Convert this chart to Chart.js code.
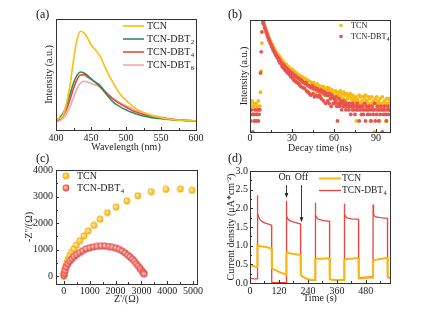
<!DOCTYPE html>
<html>
<head>
<meta charset="utf-8">
<script src="https://cdn.jsdelivr.net/npm/chart.js@4.4.1/dist/chart.umd.min.js"></script>
<style>
  body { margin: 0; background: #fff; }
  #wrap { position: relative; width: 421px; height: 313px; overflow: hidden; }
  canvas { position: absolute; }
  .tag { position: absolute; font: 12px "Liberation Serif", serif; line-height: 12px; color: #111; }
</style>
</head>
<body>
<div id="wrap">
  <canvas id="plChart" width="212" height="156" style="left:0;top:0"></canvas>
  <canvas id="decayChart" width="200" height="156" style="left:206px;top:0"></canvas>
  <canvas id="eisChart" width="212" height="163" style="left:0;top:150px"></canvas>
  <canvas id="pcChart" width="200" height="163" style="left:206px;top:150px"></canvas>
  <div class="tag" style="left:36px;top:8px">(a)</div>
  <div class="tag" style="left:228px;top:8px">(b)</div>
  <div class="tag" style="left:36px;top:152px">(c)</div>
  <div class="tag" style="left:228px;top:152px">(d)</div>
</div>
<script>
// (a) PL spectra
const wavelength = [400,405,410,415,420,425,430,435,440,445,450,455,460,465,470,475,480,485,490,495,500,505,510,515,520,525,530,535,540,545,550,555,560,565,570,575,580,585,590,595,600];
const plTcn  = [30,35,45,80,135,210,272,298,293,278,258,245,232,215,190,168,148,130,113,100,90,80,71,63,58,53,49,45,42,40,37,35,34,32,31,30,29.5,29,28.5,28,27];
const plDbt2 = [30,36,50,75,108,142,165,175,172,165,155,146,137,127,113,100,88,79,72,66,61,56,52,48,45,42,40,38,36,35,34,33,32,31,30,29.5,29,28.5,28,27.5,27];
const plDbt4 = [28,33,43,62,92,125,152,166,167,160,153,146,140,130,117,106,96,88,81,75,69,63,58,54,50,47,44,42,40,38,36,35,34,32,31,30,29.5,29,28.5,28,27];
const plDbt6 = [25,28,35,48,70,98,125,142,147,145,140,137,133,124,115,106,98,91,84,78,73,68,63,58,55,51,48,45,43,41,39,37,35,33.5,32,31,30,29,28.5,28,27.5];
const plXTicks = [400,450,500,550,600];

// (b) decay curves (counts, log axis)
const decayTime = [0,0.5,1,1.5,2,2.5,3,3.5,4,4.5,5,5.5,6,6.5,7,7.5,8,8.5,9,9.5,
  10,10.5,11,11.5,12,12.5,13,13.5,14,14.5,15,15.5,16,16.5,17,17.5,18,18.5,19,19.5,
  20,20.5,21,21.5,22,22.5,23,23.5,24,24.5,25,25.5,26,26.5,27,27.5,28,28.5,29,29.5,
  30,30.5,31,31.5,32,32.5,33,33.5,34,34.5,35,35.5,36,36.5,37,37.5,38,38.5,39,39.5,
  40,40.5,41,41.5,42,42.5,43,43.5,44,44.5,45,45.5,46,46.5,47,47.5,48,48.5,49,49.5,
  50,50.5,51,51.5,52,52.5,53,53.5,54,54.5,55,55.5,56,56.5,57,57.5,58,58.5,59,59.5,
  60,60.5,61,61.5,62,62.5,63,63.5,64,64.5,65,65.5,66,66.5,67,67.5,68,68.5,69,69.5,
  70,70.5,71,71.5,72,72.5,73,73.5,74,74.5,75,75.5,76,76.5,77,77.5,78,78.5,79,79.5,
  80,80.5,81,81.5,82,82.5,83,83.5,84,84.5,85,85.5,86,86.5,87,87.5,88,88.5,89,89.5,
  90,90.5,91,91.5,92,92.5,93,93.5,94,94.5,95,95.5,96,96.5,97,97.5,98,98.5,99,99.5,100];
const decayTcn = [6,4,5,7,3,5,6,2,4,6,5,3,7,4,5,12,45,260,900,1000,
  860,735,672,575,530,452,418,362,338,292,278,240,231,201,194,170,165,144,141,126,
  128,106,114,92,100,81,90,71,80,64,72,57,67,52,60,47,57,44,52,41,
  50,38,46,35,43,31,40,29,37,27,35,25,33,24,32,23,30,22,28,20,
  27,19,25,18,24,17,23,16,22,21,15,22,14,20,19,13,20,15,13,18,
  17,12,16,14,11,17,12,10,15,11,14,16,10,12,15,9,13,14,10,9,
  12,8,13,10,7,12,9,11,6,13,9,7,11,8,12,6,10,7,11,8,
  10,6,9,11,5,8,7,10,8,5,7,9,2,8,7,5,10,6,9,6,
  7,9,5,6,8,10,5,7,4,9,6,8,2,6,9,5,7,6,1,8,
  6,9,5,7,6,2,8,5,6,9,6,4,7,6,2,8,6,5,8,6,7];
const decayDbt4 = [3,2,4,3,1,3,2,4,3,2,3,4,2,3,4,40,150,520,1080,940,
  815,690,610,520,470,400,365,315,295,255,240,210,198,172,163,145,138,121,117,103,
  104,85,93,74,79,70,60,70,54,63,48,57,44,52,40,48,37,45,32,40,
  40,29,37,25,34,24,32,22,30,21,28,19,27,17,25,23,16,22,15,21,
  22,13,19,12,18,11,17,10,16,18,11,15,9,16,10,14,15,9,13,10,
  9,14,8,12,13,7,11,12,6,10,11,7,10,6,11,8,5,10,9,6,
  8,6,7,9,5,2,6,8,5,6,7,4,6,5,7,5,6,4,6,5,
  5,4,6,5,3,5,4,6,4,5,3,5,4,6,4,5,2,4,5,3,
  4,5,3,4,6,2,4,5,3,4,5,3,4,2,5,4,3,4,6,2,
  4,3,5,4,2,4,3,5,4,1,4,3,5,4,3,2,4,5,3,4,4];
const decayXTicks = [0,30,60,90];

// (c) Nyquist plots (ohm)
const eisTcnRe = [5,15,30,52,78,117,168,233,311,389,492,622,777,945,1166,1400,1684,2020,2435,2862,3380,3950,4508,4960];
const eisTcnIm = [20,75,164,264,377,503,640,780,906,1020,1170,1333,1510,1700,1910,2140,2390,2600,2830,3030,3180,3265,3283,3230];
const eisDbtRe = [5,25,55,100,160,230,310,400,500,610,730,860,1000,1140,1290,1440,1590,1740,1880,2010,2140,2260,2370,2470,2560,2650,2730,2810,2880,2945,3000,3050,3085,3105];
const eisDbtIm = [15,100,210,340,455,560,650,735,810,885,955,1025,1065,1095,1115,1130,1130,1112,1085,1050,1005,945,870,790,720,640,555,460,370,285,215,150,105,75];
const eisXTicks = [0,1000,2000,3000,4000,5000];
const eisYTicks = [0,1000,2000,3000,4000];

// (d) photocurrent response
const pcTimeTcn = [0,10,20,29.5,30.5,40,50,60,70,80,89.5,90.5,100,110,120,130,140,149.5,150.5,155,160,170,180,190,200,209.5,210.5,220,230,240,255,269.5,270.5,280,300,320,329.5,330.5,340,360,389.5,390.5,400,420,440,449.5,450.5,470,490,509.5,510.5,520,540,560,569.5,570.5,575,580];
const pcTcn = [0.48,0.46,0.44,0.42,1.01,0.99,0.98,0.97,0.96,0.94,0.93,0.4,0.36,0.33,0.3,0.27,0.25,0.22,0.8,0.83,0.8,0.79,0.78,0.77,0.76,0.74,0.22,0.16,0.13,0.11,0.09,0.08,0.64,0.65,0.65,0.66,0.66,0.1,0.09,0.08,0.08,0.62,0.64,0.65,0.66,0.66,0.12,0.13,0.14,0.14,0.6,0.62,0.64,0.66,0.67,0.18,0.15,0.14];
const pcTimeDbt = [0,10,20,29.5,30,31,33,36,40,50,60,70,80,89.5,90,100,149.5,150,151,153,156,160,170,180,190,200,209.5,210,215,225,240,255,269.5,270,271,273,276,280,300,320,329.5,330,340,360,389.5,390,391,393,396,400,420,440,449.5,450,470,490,509.5,510,511,513,516,520,540,560,569.5,570,580];
const pcDbt4 = [0.13,0.12,0.11,0.11,2.35,2.02,1.86,1.77,1.71,1.65,1.61,1.59,1.57,1.55,0.02,0.01,0.01,2.2,1.92,1.8,1.73,1.69,1.66,1.64,1.62,1.6,1.58,0.22,0.18,0.14,0.1,0.08,0.07,2.15,1.92,1.82,1.76,1.72,1.68,1.66,1.65,0.1,0.09,0.08,0.08,2.12,1.92,1.84,1.78,1.75,1.72,1.71,1.7,0.14,0.15,0.16,0.17,2.1,1.9,1.83,1.79,1.77,1.75,1.74,1.73,0.15,0.13];
const pcXTicks = [0,120,240,360,480];
const pcYTicks = [0,0.5,1,1.5,2,2.5,3];
const onOff = [{t: 150, text: 'On', tip: 2.28}, {t: 210, text: 'Off', tip: 1.63}];

const FONT = '"Liberation Serif", "Times New Roman", serif';
Chart.defaults.font.family = FONT;
Chart.defaults.font.size = 10;
Chart.defaults.color = '#222';
Chart.defaults.animation = false;
Chart.defaults.responsive = false;
Chart.defaults.plugins.legend.display = false;
Chart.defaults.plugins.tooltip.enabled = false;

const pts = (xs, ys) => xs.map((x, i) => ({x: x, y: ys[i]}));

// box round the plot area with inward tick marks
const framePlugin = {
  id: 'frame',
  afterDatasetsDraw(chart, args, o) {
    const {ctx, chartArea: a} = chart;
    ctx.save();
    ctx.strokeStyle = '#333';
    ctx.lineWidth = 1;
    const marks = (scale, horiz) => {
      const vals = scale.ticks.map(t => t.value);
      if (vals.length < 2) return;
      const step = vals[1] - vals[0];
      const list = vals.map(v => [v, 3]);
      for (let v = vals[0] - step / 2; v <= scale.max; v += step) {
        if (v >= scale.min) list.push([v, 2]);
      }
      list.forEach(([v, len]) => {
        const p = Math.round(scale.getPixelForValue(v)) + 0.5;
        ctx.beginPath();
        if (horiz) { ctx.moveTo(p, a.bottom); ctx.lineTo(p, a.bottom - len); }
        else { ctx.moveTo(a.left, p); ctx.lineTo(a.left + len, p); }
        ctx.stroke();
      });
    };
    if (o.x) marks(chart.scales.x, true);
    if (o.y) marks(chart.scales.y, false);
    ctx.strokeRect(Math.round(a.left) + 0.5, Math.round(a.top) + 0.5,
      Math.round(a.right - a.left), Math.round(a.bottom - a.top));
    ctx.restore();
  }
};

const SUB = '₀₁₂₃₄₅₆₇₈₉';
function drawLabel(ctx, text, x, y, size) {
  let base = text, sub = '';
  while (base.length && SUB.includes(base[base.length - 1])) {
    sub = SUB.indexOf(base[base.length - 1]) + sub;
    base = base.slice(0, -1);
  }
  ctx.textBaseline = 'middle';
  ctx.textAlign = 'left';
  ctx.font = size + 'px ' + FONT;
  ctx.fillText(base, x, y);
  if (sub) {
    const w = ctx.measureText(base).width;
    ctx.font = (size * 0.68) + 'px ' + FONT;
    ctx.fillText(sub, x + w + 0.3, y + size * 0.32);
  }
}

// legend drawn inside the plot
const keyPlugin = {
  id: 'key',
  afterDraw(chart, args, o) {
    if (!o.kind) return;
    const ctx = chart.ctx;
    ctx.save();
    chart.data.datasets.forEach((ds, i) => {
      const y = o.y + i * o.gap;
      if (o.kind === 'line') {
        ctx.strokeStyle = ds.borderColor;
        ctx.lineWidth = ds.borderWidth;
        ctx.beginPath(); ctx.moveTo(o.x, y); ctx.lineTo(o.x + o.len, y); ctx.stroke();
      } else if (o.kind === 'dot') {
        ctx.fillStyle = ds.backgroundColor;
        ctx.beginPath(); ctx.arc(o.x, y, o.r, 0, Math.PI * 2); ctx.fill();
      } else {
        const img = ds.pointStyle;
        ctx.drawImage(img, o.x - img.width / 2, y - img.height / 2);
      }
      ctx.fillStyle = '#222';
      drawLabel(ctx, ds.label, o.tx, y, o.size);
    });
    ctx.restore();
  }
};

// On / Off arrows in (d)
const arrowPlugin = {
  id: 'arrows',
  afterDraw(chart, args, o) {
    if (!o.items) return;
    const {ctx, scales: {x, y}} = chart;
    ctx.save();
    ctx.fillStyle = '#222';
    ctx.strokeStyle = '#222';
    ctx.lineWidth = 0.9;
    o.items.forEach(it => {
      const px = Math.round(x.getPixelForValue(it.t)) + 0.5;
      ctx.font = '10px ' + FONT;
      ctx.textAlign = 'center';
      ctx.textBaseline = 'middle';
      ctx.fillText(it.text, px - (it.text === 'On' ? 2 : 0), y.getPixelForValue(o.textAt));
      const y0 = y.getPixelForValue(o.top), y1 = y.getPixelForValue(it.tip);
      ctx.beginPath(); ctx.moveTo(px, y0); ctx.lineTo(px, y1 - 3); ctx.stroke();
      ctx.beginPath(); ctx.moveTo(px - 1.8, y1 - 5); ctx.lineTo(px + 1.8, y1 - 5); ctx.lineTo(px, y1); ctx.closePath(); ctx.fill();
    });
    ctx.restore();
  }
};

function ball(inner, outer, r) {
  const c = document.createElement('canvas');
  const s = Math.ceil(r * 2) + 1;
  c.width = c.height = s;
  const g = c.getContext('2d');
  const grad = g.createRadialGradient(s / 2 - r * 0.25, s / 2 - r * 0.25, 0.2, s / 2, s / 2, r);
  grad.addColorStop(0, inner);
  grad.addColorStop(1, outer);
  g.fillStyle = grad;
  g.beginPath(); g.arc(s / 2, s / 2, r, 0, Math.PI * 2); g.fill();
  return c;
}

const setTicks = list => s => { s.ticks = list.map(v => ({value: v})); };
const noGrid = {display: false, drawTicks: false};
const noBorder = {display: false};
const plugins = [framePlugin, keyPlugin, arrowPlugin];

// (a)
new Chart(document.getElementById('plChart'), {
  type: 'line',
  data: {
    datasets: [
      {label: 'TCN', data: pts(wavelength, plTcn), borderColor: '#F6C21A', borderWidth: 1.7},
      {label: 'TCN-DBT₂', data: pts(wavelength, plDbt2), borderColor: '#2F8E5C', borderWidth: 1.6},
      {label: 'TCN-DBT₄', data: pts(wavelength, plDbt4), borderColor: '#E8473F', borderWidth: 1.6},
      {label: 'TCN-DBT₆', data: pts(wavelength, plDbt6), borderColor: '#F2A6B4', borderWidth: 1.6}
    ]
  },
  options: {
    layout: {padding: {left: 0, right: 16, top: 19, bottom: 2}},
    elements: {point: {radius: 0}, line: {cubicInterpolationMode: 'monotone'}},
    scales: {
      x: {type: 'linear', min: 400, max: 600, grid: noGrid, border: noBorder,
        afterBuildTicks: setTicks(plXTicks), afterFit: s => { s.height = 24; },
        ticks: {padding: 2, maxRotation: 0, autoSkip: false, callback: v => String(v)},
        title: {display: true, text: 'Wavelength (nm)', padding: {top: 0, bottom: 1}}},
      y: {min: 0, max: 335, grid: noGrid, border: noBorder, ticks: {display: false},
        afterFit: s => { s.width = 56; },
        title: {display: true, text: 'Intensity (a.u.)', padding: {top: 43, bottom: 0}}}
    },
    plugins: {
      frame: {x: true},
      key: {kind: 'line', x: 123, len: 21, tx: 147, y: 26, gap: 13, size: 10}
    }
  },
  plugins: plugins
});

// (b)
new Chart(document.getElementById('decayChart'), {
  type: 'scatter',
  data: {
    datasets: [
      {label: 'TCN', data: pts(decayTime, decayTcn), backgroundColor: '#F8B911', order: 1},
      {label: 'TCN-DBT₄', data: pts(decayTime, decayDbt4), backgroundColor: '#E8524F', order: 0}
    ]
  },
  options: {
    layout: {padding: {left: 0, right: 16, top: 20, bottom: 0}},
    elements: {point: {radius: 1.9, borderWidth: 0}},
    scales: {
      x: {type: 'linear', min: 0, max: 100, grid: noGrid, border: noBorder,
        afterBuildTicks: setTicks(decayXTicks), afterFit: s => { s.height = 24; },
        ticks: {padding: 0, maxRotation: 0, autoSkip: false, callback: v => String(v)},
        title: {display: true, text: 'Decay time (ns)', padding: {top: 0, bottom: 2}}},
      y: {type: 'logarithmic', min: 1, max: 1100, grid: noGrid, border: noBorder,
        ticks: {display: false}, afterFit: s => { s.width = 44; },
        title: {display: true, text: 'Intensity (a.u.)', padding: {top: 32, bottom: 0}}}
    },
    plugins: {
      frame: {x: true},
      key: {kind: 'dot', x: 135, r: 1.8, tx: 145, y: 25.5, gap: 11, size: 8.2}
    }
  },
  plugins: plugins
});

// (c)
new Chart(document.getElementById('eisChart'), {
  type: 'scatter',
  data: {
    datasets: [
      {label: 'TCN', data: pts(eisTcnRe, eisTcnIm), pointStyle: ball('#FFF1A6', '#EFA800', 3.4), order: 1},
      {label: 'TCN-DBT₄', data: pts(eisDbtRe, eisDbtIm), pointStyle: ball('#FBD8D2', '#E23E3A', 3.4), order: 0}
    ]
  },
  options: {
    layout: {padding: {left: 0, right: 15, top: 20, bottom: 0}},
    elements: {point: {radius: 3.4}},
    scales: {
      x: {type: 'linear', min: -300, max: 5150, grid: noGrid, border: noBorder,
        afterBuildTicks: setTicks(eisXTicks), afterFit: s => { s.height = 29; },
        ticks: {padding: 1, maxRotation: 0, autoSkip: false, callback: v => String(v)},
        title: {display: true, text: "Z'/(Ω)", padding: {top: 0, bottom: 8}}},
      y: {type: 'linear', min: -300, max: 4000, grid: noGrid, border: noBorder,
        afterBuildTicks: setTicks(eisYTicks), afterFit: s => { s.width = 56; },
        ticks: {padding: 3, autoSkip: false, callback: v => String(v)},
        title: {display: true, text: "-Z''/(Ω)", padding: {top: 23, bottom: 0}}}
    },
    plugins: {
      frame: {x: true, y: true},
      key: {kind: 'ball', x: 66, tx: 77, y: 26, gap: 12, size: 10}
    }
  },
  plugins: plugins
});

// (d)
new Chart(document.getElementById('pcChart'), {
  type: 'line',
  data: {
    datasets: [
      {label: 'TCN', data: pts(pcTimeTcn, pcTcn), borderColor: '#F9B80C', borderWidth: 2},
      {label: 'TCN-DBT₄', data: pts(pcTimeDbt, pcDbt4), borderColor: '#EC4444', borderWidth: 1.3}
    ]
  },
  options: {
    layout: {padding: {left: 0, right: 16, top: 21, bottom: 0}},
    elements: {point: {radius: 0}, line: {tension: 0}},
    scales: {
      x: {type: 'linear', min: 0, max: 580, grid: noGrid, border: noBorder,
        afterBuildTicks: setTicks(pcXTicks), afterFit: s => { s.height = 30; },
        ticks: {padding: 2, maxRotation: 0, autoSkip: false, callback: v => String(v)},
        title: {display: true, text: 'Time (s)', padding: {top: 0, bottom: 9}}},
      y: {type: 'linear', min: 0, max: 3, grid: noGrid, border: noBorder,
        afterBuildTicks: setTicks(pcYTicks), afterFit: s => { s.width = 44; },
        ticks: {padding: 2, autoSkip: false, callback: v => v.toFixed(1)},
        title: {display: true, text: 'Current density (μA*cm⁻²)', padding: {top: 19, bottom: 0}}}
    },
    plugins: {
      frame: {x: true, y: true},
      key: {kind: 'line', x: 113, len: 22, tx: 136, y: 28.5, gap: 12, size: 9.5},
      arrows: {items: onOff, top: 2.62, textAt: 2.83}
    }
  },
  plugins: plugins
});
</script>
</body>
</html>
